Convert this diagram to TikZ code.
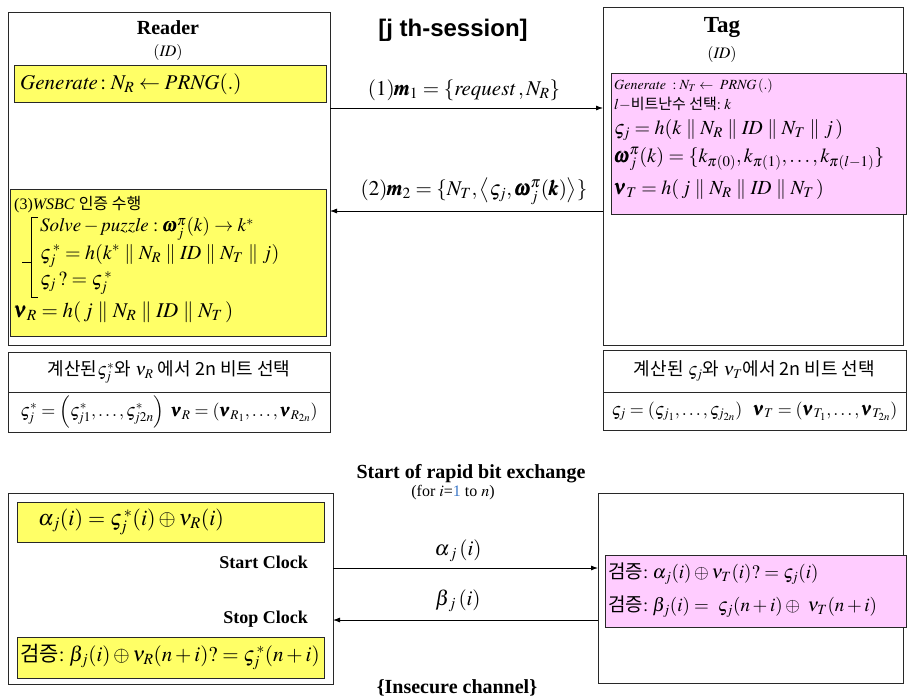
\documentclass[tikz,border=0pt]{standalone}
\usepackage{amsmath}
\usepackage{mathptmx}
\usepackage{fontspec}
\setmainfont{Liberation Serif}
\newfontfamily\kr{Noto Sans CJK KR}
\newfontfamily\hd{Liberation Sans}
\usetikzlibrary{arrows.meta,fit}
\definecolor{ylw}{RGB}{255,255,102}
\definecolor{pnk}{RGB}{255,204,255}
\definecolor{edge}{RGB}{40,40,40}
\definecolor{onecol}{RGB}{60,120,200}
\begin{document}
\begin{tikzpicture}[x=1pt,y=-1pt,
  frame/.style={draw=edge, line width=0.9pt, inner sep=0pt, outer sep=0pt},
  ybox/.style={frame, fill=ylw},
  pbox/.style={frame, fill=pnk},
  msg/.style={draw=black, line width=0.8pt, -{Latex[length=7pt,width=5pt]}},
  lbl/.style={inner sep=0pt, font=\fontsize{21}{25}\selectfont},
  ln/.style={anchor=west, inner sep=0pt, font=\fontsize{19}{23}\selectfont},
  ttl/.style={inner sep=0pt, font=\bfseries\fontsize{20}{24}\selectfont},
  idl/.style={inner sep=0pt, font=\fontsize{16}{19}\selectfont},
  krl/.style={inner sep=0pt, font=\fontsize{18}{21}\selectfont},
  clk/.style={anchor=east, inner sep=0pt, font=\bfseries\fontsize{18}{21}\selectfont}]
\useasboundingbox (0,0) rectangle (908,699);
\fill[white] (0,0) rectangle (908,699);

% ---------- upper part: Reader ----------
\node[frame, fit={(8,12) (330,345)}] (reader) {};
\node[ttl] (rt) at (168,28) {Reader};
\node[idl] (rid) at (168,52) {$(\mathit{ID})$};
\node[ybox, fit={(14,65) (326,102)}] (rgen) {};
\node[ln, font=\fontsize{21}{25}\selectfont] (rgent) at (20,84) {$\mathit{Generate}\!: N_R \leftarrow \mathit{PRNG}(.)$};
\node[ybox, fit={(10,189) (326,336)}] (rver) {};
\node[ln, font=\fontsize{16}{19}\selectfont] (r3) at (14,205) {(3)\textit{WSBC} {\kr 인증 수행}};
\node[ln] (rl1) at (40,229) {$\mathit{Solve}-\mathit{puzzle}: \pmb{\omega}_j^{\pi}(k)\rightarrow k^{*}$};
\node[ln, font=\fontsize{20}{24}\selectfont] (rl2) at (40,256) {$\varsigma_j^{\,*} = h(k^{*}\parallel N_R\parallel \mathit{ID}\parallel N_T\parallel j)$};
\node[ln, font=\fontsize{20}{24}\selectfont] (rl3) at (40,283) {$\varsigma_j\,?=\varsigma_j^{\,*}$};
\node[ln, font=\fontsize{21}{25}\selectfont] (rl4) at (14,312) {$\pmb{\nu}_R = h(\,j\parallel N_R\parallel \mathit{ID}\parallel N_T\,)$};
\draw[line width=0.8pt] (38,217) -- (31,217) -- (31,297) -- (38,297);
\draw[line width=0.8pt] (22,262) -- (31,262);

\node[frame, fit={(8,352) (330,392)}] (rsel) {};
\node[frame, fit={(8,392) (330,432)}] (rbits) {};
\node[krl] (rselt) at (rsel.center) {{\kr 계산된}$\varsigma_j^{*}${\kr 와} $\nu_R$ {\kr 에서 2n 비트 선택}};
\node[lbl, font=\fontsize{18}{22}\selectfont] (rbitst) at (rbits.center) {$\varsigma_j^{*}=\left(\varsigma_{j1}^{*},\ldots,\varsigma_{j2n}^{*}\right)\ \pmb{\nu}_R=\left(\pmb{\nu}_{R_1},\ldots,\pmb{\nu}_{R_{2n}}\right)$};

% ---------- upper part: Tag ----------
\node[frame, fit={(603,7) (903,345)}] (tag) {};
\node[ttl, font=\bfseries\fontsize{23}{27}\selectfont] (tt) at (722,28) {Tag};
\node[idl] (tid) at (722,54) {$(\mathit{ID})$};
\node[pbox, fit={(611,73) (906,214)}] (tgen) {};
\node[ln, font=\fontsize{14}{17}\selectfont] (tl1) at (614,86) {$\mathit{Generate}\ : N_T \leftarrow\ \mathit{PRNG}\,(.)$};
\node[ln, font=\fontsize{15}{18}\selectfont] (tl2) at (614,104) {$l-${\kr 비트난수 선택}$:k$};
\node[ln, font=\fontsize{20}{24}\selectfont] (tl3) at (614,130) {$\varsigma_j = h(k\parallel N_R\parallel \mathit{ID}\parallel N_T\parallel j\,)$};
\node[ln, font=\fontsize{20}{24}\selectfont] (tl4) at (614,159) {$\pmb{\omega}_j^{\pi}(k)=\{k_{\pi(0)},k_{\pi(1)},\ldots,k_{\pi(l-1)}\}$};
\node[ln, font=\fontsize{20}{24}\selectfont] (tl5) at (614,189) {$\pmb{\nu}_T = h(\,j\parallel N_R\parallel \mathit{ID}\parallel N_T\,)$};

\node[frame, fit={(603,350) (906,392)}] (tsel) {};
\node[frame, fit={(603,392) (906,430)}] (tbits) {};
\node[krl] (tselt) at (tsel.center) {{\kr 계산된} $\varsigma_j${\kr 와} $\nu_T${\kr 에서 2n 비트 선택}};
\node[lbl, font=\fontsize{18}{22}\selectfont] (tbitst) at (tbits.center) {$\varsigma_j=\left(\varsigma_{j_1},\ldots,\varsigma_{j_{2n}}\right)\ \ \pmb{\nu}_T=\left(\pmb{\nu}_{T_1},\ldots,\pmb{\nu}_{T_{2n}}\right)$};

% ---------- session messages ----------
\node[inner sep=0pt, font=\hd\bfseries\fontsize{24}{28}\selectfont] (sess) at (453,30) {[j th-session]};
\coordinate (y1) at (0,108);
\coordinate (y2) at (0,211);
\draw[msg] (reader.east |- y1) -- (tag.west |- y1);
\draw[msg] (tag.west |- y2) -- (reader.east |- y2);
\node[lbl] (m1) at (464,90) {$(1)\pmb{m}_1=\{\mathit{request}\,,N_R\}$};
\node[lbl] (m2) at (474,191) {$(2)\pmb{m}_2=\{N_T,\big\langle\varsigma_j,\pmb{\omega}_j^{\pi}(\pmb{k})\big\rangle\}$};

% ---------- lower part ----------
\node[inner sep=0pt, font=\bfseries\fontsize{20}{24}\selectfont] (rapid) at (471,474) {Start of rapid bit exchange};
\node[inner sep=0pt, font=\fontsize{16}{19}\selectfont] (fori) at (453,493) {(for $i$=\textcolor{onecol}{1} to $n$)};

\node[frame, fit={(8,493) (333,684)}] (reader2) {};
\node[ybox, fit={(17,502) (324,542)}] (ralpha) {};
\node[ln, font=\fontsize{22}{26}\selectfont] (ralphat) at (38,522) {$\alpha_j(i)=\varsigma_j^{\,*}(i)\oplus\nu_R(i)$};
\node[clk] (start) at (308,562) {Start Clock};
\node[clk] (stop) at (308,619) {Stop Clock};
\node[ybox, fit={(17,637) (324,678)}] (rbeta) {};
\node[ln, font=\fontsize{21}{25}\selectfont] (rbetat) at (20,657) {{\kr 검증}$:\beta_j(i)\oplus\nu_R(n+i)?=\varsigma_j^{\,*}(n+i)$};

\node[frame, fit={(598,493) (903,683)}] (tag2) {};
\node[pbox, fit={(605,555) (906,627)}] (tver) {};
\node[ln] (tv1) at (608,574) {{\kr 검증}$:\alpha_j(i)\oplus\nu_T(i)?=\varsigma_j(i)$};
\node[ln] (tv2) at (608,607) {{\kr 검증}$:\beta_j(i)=\ \varsigma_j(n+i)\oplus\ \nu_T(n+i)$};

\coordinate (y3) at (0,568);
\coordinate (y4) at (0,620);
\draw[msg] (reader2.east |- y3) -- (tag2.west |- y3);
\draw[msg] (tag2.west |- y4) -- (reader2.east |- y4);
\node[lbl] (al) at (458,551) {$\alpha_{\,j}\,(i)$};
\node[lbl] (bl) at (458,601) {$\beta_{\,j}\,(i)$};
\node[inner sep=0pt, font=\bfseries\fontsize{20}{24}\selectfont] (ins) at (457,688) {\{Insecure channel\}};
\end{tikzpicture}
\end{document}
